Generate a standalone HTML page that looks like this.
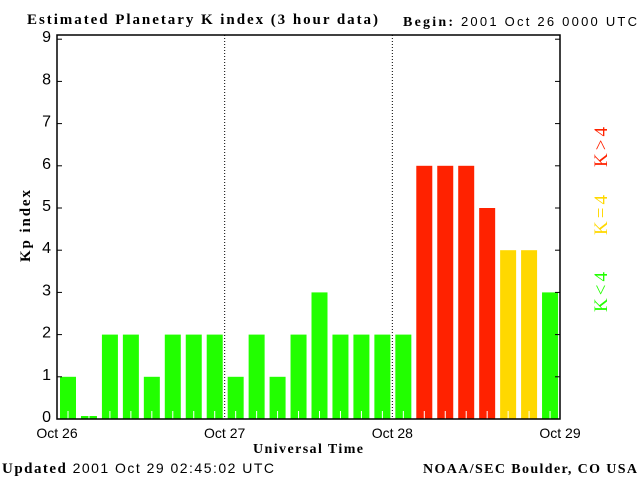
<!DOCTYPE html>
<html><head><meta charset="utf-8"><style>
body{margin:0;background:#fff;}
svg{display:block;font-family:"Liberation Serif",serif;}
</style></head><body>
<svg id="c" width="640" height="480" xmlns="http://www.w3.org/2000/svg">
<rect width="640" height="480" fill="#fff"/>
<text x="27" y="24" font-size="15" font-weight="bold" textLength="351" lengthAdjust="spacing">Estimated Planetary K index (3 hour data)</text>
<text x="403" y="26" font-size="14" textLength="234" lengthAdjust="spacing"><tspan font-weight="bold">Begin:</tspan> <tspan font-family="Liberation Sans, sans-serif" font-size="13">2001 Oct 26 0000 UTC</tspan></text>
<text x="30" y="226" font-size="15" font-weight="bold" transform="rotate(-90 30 226)" text-anchor="middle" textLength="72">Kp index</text>
<text x="308" y="453" font-size="14" font-weight="bold" text-anchor="middle" textLength="110">Universal Time</text>
<text x="2" y="473" font-size="15" textLength="272" lengthAdjust="spacing"><tspan font-weight="bold">Updated</tspan> <tspan font-family="Liberation Sans, sans-serif" font-size="14">2001 Oct 29 02:45:02 UTC</tspan></text>
<text x="423" y="473" font-size="14" font-weight="bold" textLength="214" lengthAdjust="spacing">NOAA/SEC Boulder, CO USA</text>
<g id="plot"></g>
<text x="607" y="147" font-size="19" fill="#ff2200" transform="rotate(-90 607 147)" text-anchor="middle" textLength="40">K&gt;4</text>
<text x="607" y="215" font-size="19" fill="#ffd800" transform="rotate(-90 607 215)" text-anchor="middle" textLength="40">K=4</text>
<text x="607" y="292" font-size="19" fill="#22ff00" transform="rotate(-90 607 292)" text-anchor="middle" textLength="40">K&lt;4</text>
</svg>
<script>
const kpValues=[1,0,2,2,1,2,2,2, 1,2,1,2,3,2,2,2, 2,6,6,6,5,4,4,3];
const dayLabels=["Oct 26","Oct 27","Oct 28","Oct 29"];
const yTicks=[0,1,2,3,4,5,6,7,8,9];
const X0=57,X1=560,Y0=419,YT=35;
const NS="http://www.w3.org/2000/svg";
const g=document.getElementById('plot');
const slot=(X1-X0)/kpValues.length;
function xs(i){return X0+i*slot;}
function ys(v){return Y0-v*42.2;}
function mk(t,a){const e=document.createElementNS(NS,t);for(const k in a)e.setAttribute(k,a[k]);g.appendChild(e);return e;}
kpValues.forEach((v,i)=>{
  const col=v>4?'#ff2200':(v==4?'#ffd800':'#22ff00');
  const top=v==0?Y0-3:ys(v);
  const r=mk('rect',{x:xs(i)+3,y:top,width:16,height:Y0-top,fill:col});
  
  
  const t=mk('line',{x1:xs(i)+11,x2:xs(i)+11,y1:Y0-8,y2:Y0,stroke:'#fff','stroke-width':1});
  
  
});
for(let d=1;d<3;d++){
  const l=mk('line',{x1:X0+d*8*slot,x2:X0+d*8*slot,y1:YT,y2:Y0,stroke:'#000','stroke-dasharray':'1,2'});
  
  
}
const ax=mk('path',{d:`M${X0} ${YT}H${X1}V${Y0}H${X0}Z`,fill:'none',stroke:'#000','stroke-width':1.5});


yTicks.forEach(v=>{
  const y=ys(v);
  mk('line',{x1:X0,x2:X0+5,y1:y,y2:y,stroke:'#000'});
  mk('line',{x1:X1-5,x2:X1,y1:y,y2:y,stroke:'#000'});
  const t=mk('text',{x:X0-6,y:y+3,'font-size':16,'text-anchor':'end','font-family':'Liberation Sans, sans-serif'});
  t.textContent=v;
  
  
});
dayLabels.forEach((s,d)=>{
  const t=mk('text',{x:X0+d*8*slot,y:438,'font-size':14,'text-anchor':'middle','font-family':'Liberation Sans, sans-serif'});
  t.textContent=s;
  
  
});
</script>
</body></html>
